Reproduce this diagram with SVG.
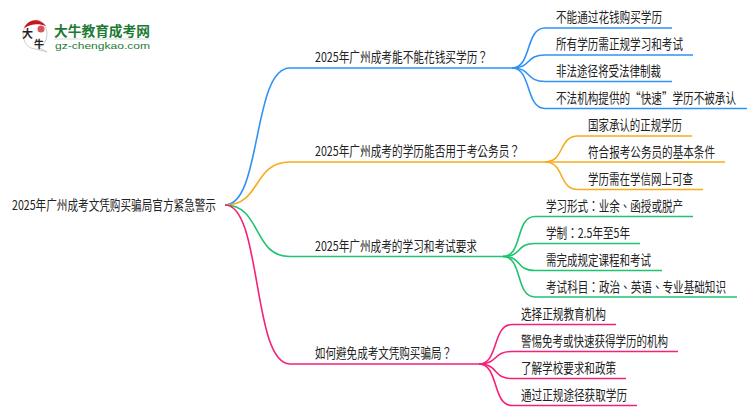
<svg xmlns="http://www.w3.org/2000/svg" width="750" height="410" viewBox="0 0 750 410">
<style>
text{font-family:"Noto Sans CJK SC","Noto Sans",sans-serif;font-size:13.500px;fill:#222}
text.t{font-family:"Noto Sans CJK TC","Noto Sans",sans-serif}
.c{fill:none;stroke-width:1.6}
.b{stroke:#2f93f5}.o{stroke:#f7ab1d}.g{stroke:#1fc46f}.p{stroke:#f5207a}
</style>
<rect width="750" height="410" fill="#fff"/>
<g id="logo">
<path d="M33 21C40 18 46 23 47 33C47 42 42 47 38 47L47 52L36 49C28 49 23 42 23 34C23 28 27 23 33 21Z" fill="#fff" stroke="#ccc"/>
<path d="M24 28C28 19 39 17 46 26C38 23 31 24 24 28Z" fill="#c8141e"/>
<circle cx="41" cy="29" r="3.500" fill="#d9525a"/>
<text x="22" y="38" style="font-size:11px;fill:#222;font-weight:700">大</text>
<text x="34" y="48" style="font-size:10px;fill:#222;font-weight:700">牛</text>
<text x="54" y="36" textLength="96" lengthAdjust="spacingAndGlyphs" style="font-size:13.600px;fill:#1d7a34;font-weight:700">大牛教育成考网</text>
<rect x="54" y="38.500" width="96" height="1" fill="#cfe0d2"/>
<text x="55" y="49" textLength="95" lengthAdjust="spacingAndGlyphs" style="font-size:9.600px;fill:#1d7a34;font-family:'Liberation Sans',sans-serif">gz-chengkao.com</text>
</g>
<g id="connectors">
<path class="c b" d="M225 205C262 205 252 68 290 68H512"/>
<path class="c b" d="M512 68C532 68 525 28 545 28H672"/>
<path class="c b" d="M512 68C532 68 525 55 545 55H693"/>
<path class="c b" d="M512 68C532 68 525 81.500 545 81.500H672"/>
<path class="c b" d="M512 68C532 68 525 108.500 545 108.500H747"/>
<path class="c o" d="M225 205C262 205 252 162 290 162H545"/>
<path class="c o" d="M545 162C565 162 558 136 578 136H692"/>
<path class="c o" d="M545 162H725"/>
<path class="c o" d="M545 162C565 162 558 189.500 578 189.500H703"/>
<path class="c g" d="M225 205C262 205 252 256.500 290 256.500H503"/>
<path class="c g" d="M503 256.500C523 256.500 515 216.500 535 216.500H693"/>
<path class="c g" d="M503 256.500C523 256.500 515 243.500 535 243.500H640"/>
<path class="c g" d="M503 256.500C523 256.500 515 270.500 535 270.500H662"/>
<path class="c g" d="M503 256.500C523 256.500 515 297 535 297H737"/>
<path class="c p" d="M225 205C262 205 252 364 290 364H479"/>
<path class="c p" d="M479 364C499 364 492 324.500 512 324.500H616"/>
<path class="c p" d="M479 364C499 364 492 351.500 512 351.500H678"/>
<path class="c p" d="M479 364C499 364 492 378.500 512 378.500H626"/>
<path class="c p" d="M479 364C499 364 492 405.500 512 405.500H637"/>
</g>
<g id="root"><text x="12" y="210" textLength="204" lengthAdjust="spacingAndGlyphs">2025年广州成考文凭购买骗局官方紧急警示</text></g>
<g id="b1"><text class="t" x="315" y="62" textLength="173" lengthAdjust="spacingAndGlyphs">2025年广州成考能不能花钱买学历？</text></g>
<g id="b2"><text class="t" x="315" y="156" textLength="205" lengthAdjust="spacingAndGlyphs">2025年广州成考的学历能否用于考公务员？</text></g>
<g id="b3"><text x="315" y="251" textLength="162" lengthAdjust="spacingAndGlyphs">2025年广州成考的学习和考试要求</text></g>
<g id="b4"><text class="t" x="315" y="358" textLength="137" lengthAdjust="spacingAndGlyphs">如何避免成考文凭购买骗局？</text></g>
<g id="l11"><text x="556" y="22" textLength="106" lengthAdjust="spacingAndGlyphs">不能通过花钱购买学历</text></g>
<g id="l12"><text x="556" y="49" textLength="127" lengthAdjust="spacingAndGlyphs">所有学历需正规学习和考试</text></g>
<g id="l13"><text x="556" y="76" textLength="105" lengthAdjust="spacingAndGlyphs">非法途径将受法律制裁</text></g>
<g id="l14"><text x="556" y="103" textLength="180" lengthAdjust="spacingAndGlyphs">不法机构提供的“快速”学历不被承认</text></g>
<g id="l21"><text x="588" y="130" textLength="94" lengthAdjust="spacingAndGlyphs">国家承认的正规学历</text></g>
<g id="l22"><text x="588" y="157" textLength="127" lengthAdjust="spacingAndGlyphs">符合报考公务员的基本条件</text></g>
<g id="l23"><text x="588" y="184" textLength="105" lengthAdjust="spacingAndGlyphs">学历需在学信网上可查</text></g>
<g id="l31"><text class="t" x="546" y="211" textLength="137" lengthAdjust="spacingAndGlyphs">学习形式：业余、函授或脱产</text></g>
<g id="l32"><text class="t" x="546" y="238" textLength="84" lengthAdjust="spacingAndGlyphs">学制：2.5年至5年</text></g>
<g id="l33"><text x="546" y="265" textLength="105" lengthAdjust="spacingAndGlyphs">需完成规定课程和考试</text></g>
<g id="l34"><text class="t" x="546" y="292" textLength="180" lengthAdjust="spacingAndGlyphs">考试科目：政治、英语、专业基础知识</text></g>
<g id="l41"><text x="521" y="319" textLength="85" lengthAdjust="spacingAndGlyphs">选择正规教育机构</text></g>
<g id="l42"><text x="521" y="346" textLength="147" lengthAdjust="spacingAndGlyphs">警惕免考或快速获得学历的机构</text></g>
<g id="l43"><text x="521" y="373" textLength="95" lengthAdjust="spacingAndGlyphs">了解学校要求和政策</text></g>
<g id="l44"><text x="521" y="400" textLength="106" lengthAdjust="spacingAndGlyphs">通过正规途径获取学历</text></g>
</svg>
